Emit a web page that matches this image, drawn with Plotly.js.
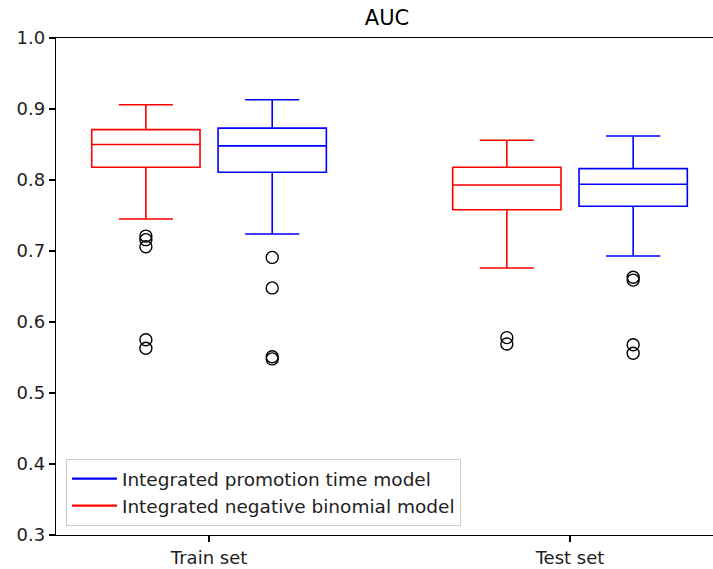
<!DOCTYPE html>
<html>
<head>
<meta charset="utf-8">
<script src="https://cdn.plot.ly/plotly-3.0.1.min.js"></script>
<style>
html,body{margin:0;padding:0;overflow:hidden;background:#fff;}
#chart{width:720px;height:569px;}
</style>
</head>
<body>
<div id="chart"></div>
<script>
// ---- data ----
const groups = ['Train set', 'Test set'];
const groupPos = [1, 2];
const seriesNames = ['Integrated promotion time model', 'Integrated negative binomial model'];

// Integrated negative binomial model (red)
const nbQ1 = [0.818, 0.758];
const nbMedian = [0.850, 0.793];
const nbQ3 = [0.871, 0.818];
const nbLower = [0.745, 0.676];
const nbUpper = [0.906, 0.856];
const nbOutliersTrain = [0.721, 0.716, 0.706, 0.575, 0.563];
const nbOutliersTest = [0.578, 0.569];

// Integrated promotion time model (blue)
const ptQ1 = [0.811, 0.763];
const ptMedian = [0.848, 0.794];
const ptQ3 = [0.873, 0.816];
const ptLower = [0.724, 0.693];
const ptUpper = [0.913, 0.862];
const ptOutliersTrain = [0.691, 0.648, 0.551, 0.548];
const ptOutliersTest = [0.663, 0.659, 0.568, 0.556];

// ---- build ----
const off = 0.175;
const font = 'DejaVu Sans, sans-serif';
const traces = [];

function addBoxes(color, q1, med, q3, lo, hi, outs, shift) {
  const xs = groupPos.map(p => p + shift);
  traces.push({
    type: 'box', x: xs, q1: q1, median: med, q3: q3,
    lowerfence: lo, upperfence: hi,
    width: 0.3, whiskerwidth: 0.5,
    line: {color: color, width: 1.6},
    fillcolor: 'rgba(0,0,0,0)',
    boxpoints: false, showlegend: false, hoverinfo: 'skip'
  });
  outs.forEach((arr, i) => {
    traces.push({
      type: 'scatter', mode: 'markers',
      x: arr.map(() => xs[i]), y: arr,
      marker: {symbol: 'circle-open', size: 12, color: '#000', line: {width: 1.4, color: '#000'}},
      showlegend: false, hoverinfo: 'skip'
    });
  });
}

addBoxes('#ff0000', nbQ1, nbMedian, nbQ3, nbLower, nbUpper, [nbOutliersTrain, nbOutliersTest], -off);
addBoxes('#0000ff', ptQ1, ptMedian, ptQ3, ptLower, ptUpper, [ptOutliersTrain, ptOutliersTest], off);

// legend entries
traces.push({type: 'scatter', mode: 'lines', x: [null], y: [null], name: seriesNames[0], line: {color: '#0000ff', width: 2.2}});
traces.push({type: 'scatter', mode: 'lines', x: [null], y: [null], name: seriesNames[1], line: {color: '#ff0000', width: 2.2}});

const layout = {
  width: 720, height: 569,
  margin: {l: 56, r: 2, t: 38, b: 34},
  paper_bgcolor: '#fff', plot_bgcolor: '#fff',
  font: {family: font, size: 18, color: '#000'},
  title: {text: 'AUC', font: {family: font, size: 21, color: '#000'},
          x: 0.5, xref: 'paper', xanchor: 'center', y: 1 - 18 / 569, yref: 'container', yanchor: 'middle'},
  boxmode: 'overlay',
  showlegend: true,
  legend: {x: 0.015, y: 0.018, xanchor: 'left', yanchor: 'bottom',
           bgcolor: 'rgba(255,255,255,0.8)', bordercolor: '#cccccc', borderwidth: 1,
           itemwidth: 45,
           font: {family: font, size: 18.5, color: '#222'}, traceorder: 'normal'},
  xaxis: {range: [0.576, 2.41], tickvals: groupPos, ticktext: groups,
          showgrid: false, zeroline: false, showline: true, linecolor: '#000', linewidth: 1.2,
          mirror: true, ticks: 'outside', ticklen: 6, tickcolor: '#000', tickwidth: 1.2,
          tickfont: {family: font, size: 18, color: '#222'}},
  yaxis: {range: [0.3, 1.0], dtick: 0.1, tick0: 0.3, tickformat: '.1f',
          showgrid: false, zeroline: false, showline: true, linecolor: '#000', linewidth: 1.2,
          mirror: true, ticks: 'outside', ticklen: 6, tickcolor: '#000', tickwidth: 1.2,
          tickfont: {family: font, size: 18, color: '#222'}}
};

Plotly.newPlot('chart', traces, layout, {displayModeBar: false, staticPlot: true});
</script>
</body>
</html>
